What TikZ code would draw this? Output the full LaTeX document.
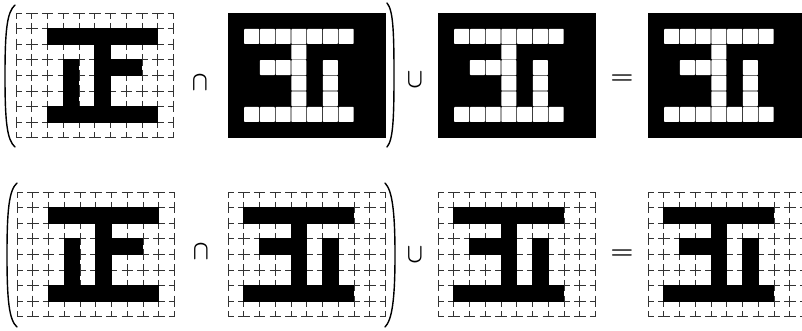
\documentclass[tikz,border=0pt]{standalone}
\begin{document}
\begin{tikzpicture}[x=1pt,y=-1pt,
  hgridline/.style={black!80,line width=0.65pt,dash pattern=on 11.5pt off 4.25pt,dash phase=5.75pt},
  vgridline/.style={black!80,line width=0.65pt,dash pattern=on 11.4pt off 4.2pt,dash phase=5.7pt},
  parenline/.style={black,line width=1.4pt,line cap=round},
  opsym/.style={inner sep=0pt,font=\boldmath,xscale=2.1,yscale=2.7},
  eqsym/.style={inner sep=0pt,font=\boldmath,xscale=2.6,yscale=2.2}]
\clip (0,0) rectangle (802,330);
\fill[white] (0,0) rectangle (802,330);
\def\cw{15.75}
\def\ch{15.6}
\def\glyphA{2/1,3/1,4/1,5/1,6/1,7/1,8/1,5/2,3/3,5/3,6/3,7/3,3/4,5/4,3/5,5/5,2/6,3/6,4/6,5/6,6/6,7/6,8/6}
\def\glyphB{1/1,2/1,3/1,4/1,5/1,6/1,7/1,4/2,2/3,3/3,4/3,6/3,4/4,6/4,4/5,6/5,1/6,2/6,3/6,4/6,5/6,6/6,7/6}
% white background grid with black glyph
\newcommand\whitegridA[2]{%
  \begin{scope}[shift={(#1,#2)}]
    \foreach \i in {0,...,10} \draw[vgridline] (\i*\cw,0) -- (\i*\cw,8*\ch);
    \foreach \j in {0,...,8} \draw[hgridline] (0,\j*\ch) -- (10*\cw,\j*\ch);
    \foreach \c/\r in \glyphA \fill[black] (\c*\cw-0.4,\r*\ch-0.4) rectangle (\c*\cw+\cw+0.4,\r*\ch+\ch+0.4);
  \end{scope}}
\newcommand\whitegridB[2]{%
  \begin{scope}[shift={(#1,#2)}]
    \foreach \i in {0,...,10} \draw[vgridline] (\i*\cw,0) -- (\i*\cw,8*\ch);
    \foreach \j in {0,...,8} \draw[hgridline] (0,\j*\ch) -- (10*\cw,\j*\ch);
    \foreach \c/\r in \glyphB \fill[black] (\c*\cw-0.4,\r*\ch-0.4) rectangle (\c*\cw+\cw+0.4,\r*\ch+\ch+0.4);
  \end{scope}}
% black background grid with white glyph
\newcommand\blackgridB[2]{%
  \begin{scope}[shift={(#1,#2)}]
    \fill[black] (0,0) rectangle (10*\cw,8*\ch);
    \foreach \c/\r in \glyphB \fill[white,rounded corners=0.8pt] (\c*\cw+0.3,\r*\ch+0.3) rectangle (\c*\cw+\cw-0.3,\r*\ch+\ch-0.3);
  \end{scope}}
% ---- top row ----
\whitegridA{16}{13}
\blackgridB{228}{13}
\blackgridB{438}{13}
\blackgridB{648}{13}
\draw[parenline] (15,5) .. controls (7,12) and (5,30) .. (5,76) .. controls (5,122) and (7,140) .. (15,147);
\draw[parenline] (387,3) .. controls (393,10) and (394,30) .. (394,75) .. controls (394,120) and (393,140) .. (387,147);
\node[opsym] (tcap) at (200,83) {$\cap$};
\node[opsym] (tcup) at (415,80) {$\cup$};
\node[eqsym] (teq) at (622,79) {$=$};
% ---- bottom row ----
\whitegridA{17}{192}
\whitegridB{228}{192}
\whitegridB{438}{192}
\whitegridB{648}{192}
\draw[parenline] (17,183) .. controls (9,190) and (7,210) .. (7,255) .. controls (7,300) and (9,320) .. (17,327);
\draw[parenline] (385,183) .. controls (392,190) and (395,210) .. (395,255) .. controls (395,300) and (392,320) .. (385,327);
\node[opsym] (bcap) at (201,252) {$\cap$};
\node[opsym] (bcup) at (415,255) {$\cup$};
\node[eqsym] (beq) at (622,254) {$=$};
\end{tikzpicture}
\end{document}
